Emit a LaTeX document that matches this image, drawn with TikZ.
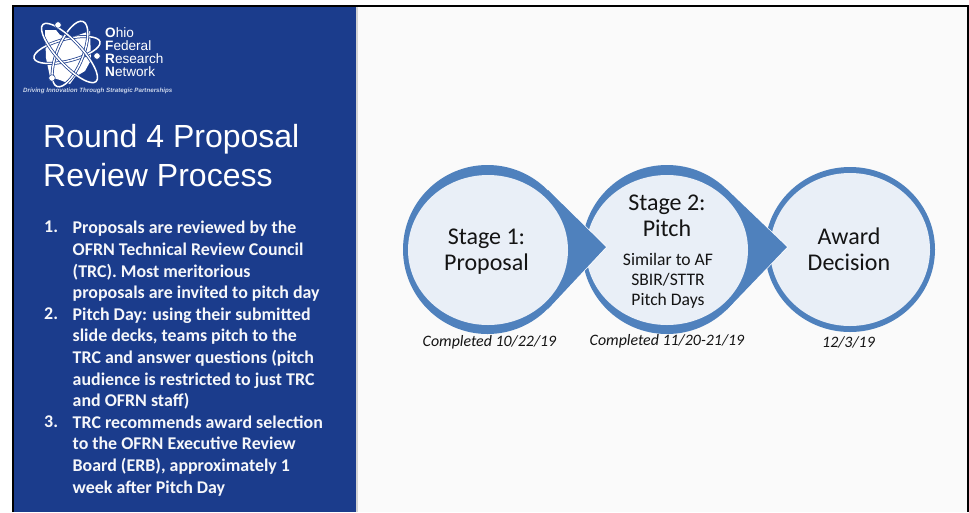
\documentclass[tikz,border=0pt]{standalone}
\usepackage{fontspec}
\setmainfont{Carlito}
\newfontfamily\arialf{Liberation Sans}
\usetikzlibrary{shapes.geometric}
\definecolor{panelblue}{RGB}{27,60,140}
\definecolor{ringblue}{RGB}{79,129,189}
\definecolor{innerblue}{RGB}{233,239,247}
\definecolor{slidebg}{RGB}{250,250,250}
\definecolor{tagcol}{RGB}{205,215,235}
\tikzset{
 x=1pt,y=-1pt,
 outer/.style={ellipse,fill=ringblue,inner sep=0pt,outer sep=0pt,minimum width=#1*2pt,minimum height=169pt},
 innerdisk/.style={ellipse,fill=innerblue,inner sep=0pt,outer sep=0pt,minimum width=#1*2pt,minimum height=150pt},
 tiparrow/.style={fill=ringblue,draw=white,line width=1.4pt,line join=miter},
 bigtext/.style={font=\fontsize{24}{26}\selectfont,text=black!92,align=center,inner sep=0pt},
 smalltext/.style={font=\fontsize{17.6}{19.7}\selectfont,text=black!92,align=center,inner sep=0pt},
 datetext/.style={font=\fontsize{15.9}{18}\selectfont\itshape,text=black!92,inner sep=0pt,anchor=center},
 titletext/.style={font=\arialf\fontsize{32}{39}\selectfont,text=white,align=left,inner sep=0pt,anchor=north west},
 listtext/.style={font=\bfseries\fontsize{17.9}{21.65}\selectfont,text=white!96!panelblue,align=left,inner sep=0pt,anchor=north west},
 orbit/.style={draw=white,line width=1.5pt},
 orbitedge/.style={draw=panelblue,line width=3pt},
 logotext/.style={font=\arialf\fontsize{13.6}{13}\selectfont,text=white,align=left,inner sep=0pt,anchor=north west},
 tagtext/.style={font=\arialf\bfseries\itshape\fontsize{6.2}{7}\selectfont,text=tagcol,inner sep=0pt,anchor=west},
 electron/.style={circle,fill=white,draw=panelblue,line width=0.5pt,minimum size=6.5pt,inner sep=0pt},
}
\begin{document}
\begin{tikzpicture}
\useasboundingbox (0,0) rectangle (969,512);
\fill[white] (0,0) rectangle (969,512);
\fill[slidebg] (13,6) rectangle (968,512);
\fill[black!45,opacity=.35] (356,6) rectangle (358,512);
\fill[panelblue] (13,6) rectangle (356,512);
\draw[black,line width=2pt] (13,512) -- (13,6) -- (968,6) -- (968,512);

% logo
\fill[white] (45,30) -- (56,30) -- (60,35) -- (70,38) -- (90,31) -- (91,60) -- (85,71) -- (75,77) -- (70,84) -- (60,80) -- (50,77) -- (46,58) -- cycle;
\draw[orbitedge] (67,50) ellipse[x radius=34,y radius=11,rotate=14];
\draw[orbit] (67,50) ellipse[x radius=34,y radius=11,rotate=14];
\draw[orbitedge] (70,54) ellipse[x radius=35,y radius=13,rotate=68];
\draw[orbit] (70,54) ellipse[x radius=35,y radius=13,rotate=68];
\draw[orbitedge] (69.5,53) ellipse[x radius=39,y radius=12,rotate=-47];
\draw[orbit] (69.5,53) ellipse[x radius=39,y radius=12,rotate=-47];
\node[electron] (e1) at (58,25) {};
\node[electron] (e2) at (97,56) {};
\node[electron] (e3) at (52,78) {};
\node[logotext] (logoname) at (105,27) {\textbf{O}hio\\\textbf{F}ederal\\\textbf{R}esearch\\\textbf{N}etwork};
\node[tagtext] (tagline) at (23,91) {Driving Innovation Through Strategic Partnerships};

% panel text
\node[titletext] (title) at (43,124.5) {Round 4 Proposal\\Review Process};
\node[listtext] (n1) at (44,221) {1.};
\node[listtext] (l1) at (72.5,221) {Proposals are reviewed by the\\OFRN Technical Review Council\\(TRC). Most meritorious\\proposals are invited to pitch day};
\node[listtext] (n2) at (44,307.5) {2.};
\node[listtext] (l2) at (72.5,307.5) {Pitch Day: using their submitted\\slide decks, teams pitch to the\\TRC and answer questions (pitch\\audience is restricted to just TRC\\and OFRN staff)};
\node[listtext] (n3) at (44,415.5) {3.};
\node[listtext] (l3) at (72.5,415.5) {TRC recommends award selection\\to the OFRN Executive Review\\Board (ERB), approximately 1\\week after Pitch Day};

% stage 3
\node[ellipse,fill=ringblue,inner sep=0pt,minimum width=170pt,minimum height=165pt] (c3) at (850,249.5) {};
\node[ellipse,fill=innerblue,inner sep=0pt,minimum width=160pt,minimum height=153pt] (i3) at (850,249.5) {};
% stage 2
\coordinate (tipb) at (787,247);
\coordinate (t2a) at (727,189.5);
\coordinate (t2b) at (727,309.5);
\draw[tiparrow] (t2a) -- (tipb) -- (t2b);
\fill[ringblue] (t2a) -- (tipb) -- (t2b) -- cycle;
\node[outer=85] (c2) at (667,249.5) {};
\node[innerdisk=81] (i2) at (667,250) {};
% stage 1
\coordinate (tipa) at (606,247);
\coordinate (t1a) at (548,190);
\coordinate (t1b) at (548,309);
\draw[tiparrow] (t1a) -- (tipa) -- (t1b);
\fill[ringblue] (t1a) -- (tipa) -- (t1b) -- cycle;
\node[outer=84.5] (c1) at (487.5,249.5) {};
\node[innerdisk=80] (i1) at (488,250) {};

\node[bigtext] (s1) at (486.5,252) {Stage 1:\\Proposal};
\node[bigtext] (s2) at (667,216) {Stage 2:\\Pitch};
\node[smalltext] (s2b) at (668,281) {Similar to AF\\SBIR/STTR\\Pitch Days};
\node[bigtext] (s3) at (849,249.5) {Award\\Decision};
\node[datetext] (d1) at (489.5,342) {Completed 10/22/19};
\node[datetext] (d2) at (667,341.5) {Completed 11/20-21/19};
\node[datetext] (d3) at (848.5,342) {12/3/19};
\end{tikzpicture}
\end{document}
